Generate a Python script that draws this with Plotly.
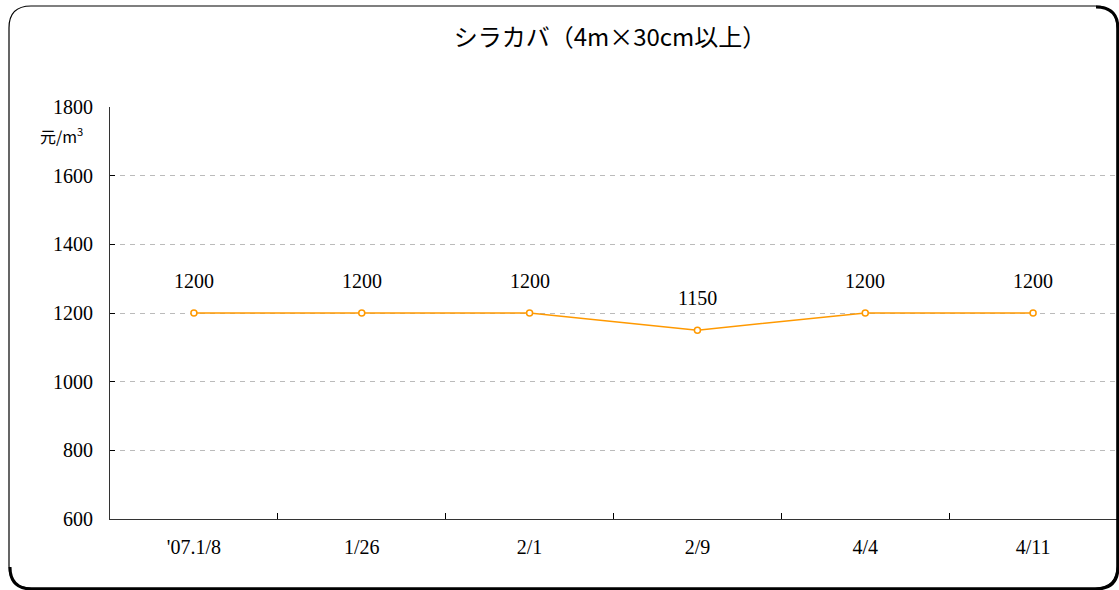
import plotly.graph_objects as go

dates = ["'07.1/8", "1/26", "2/1", "2/9", "4/4", "4/11"]
prices = [1200, 1200, 1200, 1150, 1200, 1200]

W, H = 1119, 590
L, R, T, B = 110, 2, 107, 71


def px(x):
    return (x - L) / (W - L - R)


def py(y):
    return (H - B - y) / (H - T - B)


def round_rect(x0, y0, x1, y1, r):
    return (
        f"M {px(x0 + r)},{py(y0)} L {px(x1 - r)},{py(y0)} "
        f"Q {px(x1)},{py(y0)} {px(x1)},{py(y0 + r)} "
        f"L {px(x1)},{py(y1 - r)} "
        f"Q {px(x1)},{py(y1)} {px(x1 - r)},{py(y1)} "
        f"L {px(x0 + r)},{py(y1)} "
        f"Q {px(x0)},{py(y1)} {px(x0)},{py(y1 - r)} "
        f"L {px(x0)},{py(y0 + r)} "
        f"Q {px(x0)},{py(y0)} {px(x0 + r)},{py(y0)} Z"
    )


def shadow(x0, y0, x1, y1, r):
    return (
        f"M {px(x1 - r)},{py(y0)} "
        f"Q {px(x1)},{py(y0)} {px(x1)},{py(y0 + r)} "
        f"L {px(x1)},{py(y1 - r)} "
        f"Q {px(x1)},{py(y1)} {px(x1 - r)},{py(y1)} "
        f"L {px(x0 + r)},{py(y1)} "
        f"Q {px(x0)},{py(y1)} {px(x0)},{py(y1 - r)}"
    )


fig = go.Figure()

fig.add_trace(go.Scatter(
    x=dates,
    y=prices,
    mode='lines+markers',
    line=dict(color='#FF9900', width=1.5),
    marker=dict(size=6, color='white', line=dict(color='#FF9900', width=1.5)),
    cliponaxis=False,
    hoverinfo='skip',
))

# データラベル
for d, p in zip(dates, prices):
    fig.add_annotation(
        x=d, y=p, text=str(p), showarrow=False, yshift=32,
        font=dict(family='Liberation Serif', size=20, color='black'),
    )

# 単位
fig.add_annotation(
    x=px(61), y=py(135), xref='paper', yref='paper', showarrow=False,
    xanchor='center', yanchor='middle',
    text='元/m<sup>3</sup>', font=dict(family='Noto Sans CJK JP', size=16, color='black'),
)

fig.add_shape(type='path', path=shadow(10, 7, 1118, 589, 22), xref='paper', yref='paper',
              line=dict(color='black', width=3), layer='above')
fig.add_shape(type='path', path=round_rect(9, 6, 1117, 588, 22), xref='paper', yref='paper',
              line=dict(color='black', width=1.2), layer='above')

fig.update_xaxes(
    type='category', range=[-0.5, 5.5],
    showline=True, linecolor='#333', linewidth=1.2,
    ticks='inside', tickson='boundaries', ticklen=6, tickcolor='black',
    showgrid=False,
    tickfont=dict(family='Liberation Serif', size=20, color='black'),
    ticklabelstandoff=10,
)
fig.update_yaxes(
    range=[600, 1800], dtick=200,
    showline=True, linecolor='#333', linewidth=1.2,
    ticks='inside', ticklen=5, tickcolor='black',
    showgrid=True, gridcolor='#BBBBBB', griddash='5px,5px', gridwidth=1,
    zeroline=False,
    tickfont=dict(family='Liberation Serif', size=20, color='black'),
    ticklabelstandoff=12,
)

fig.update_layout(
    width=W, height=H,
    margin=dict(l=L, r=R, t=T, b=B),
    paper_bgcolor='white', plot_bgcolor='white',
    showlegend=False,
    title=dict(
        text='シラカバ（4m×30cm以上）', x=px(610), xanchor='center', xref='paper',
        y=1 - 38 / H, yanchor='middle',
        font=dict(family='Noto Sans CJK JP', size=24, color='black'),
    ),
)

fig.write_html("out.html", config={'displayModeBar': False},
               post_script="document.body.style.margin='0';")
